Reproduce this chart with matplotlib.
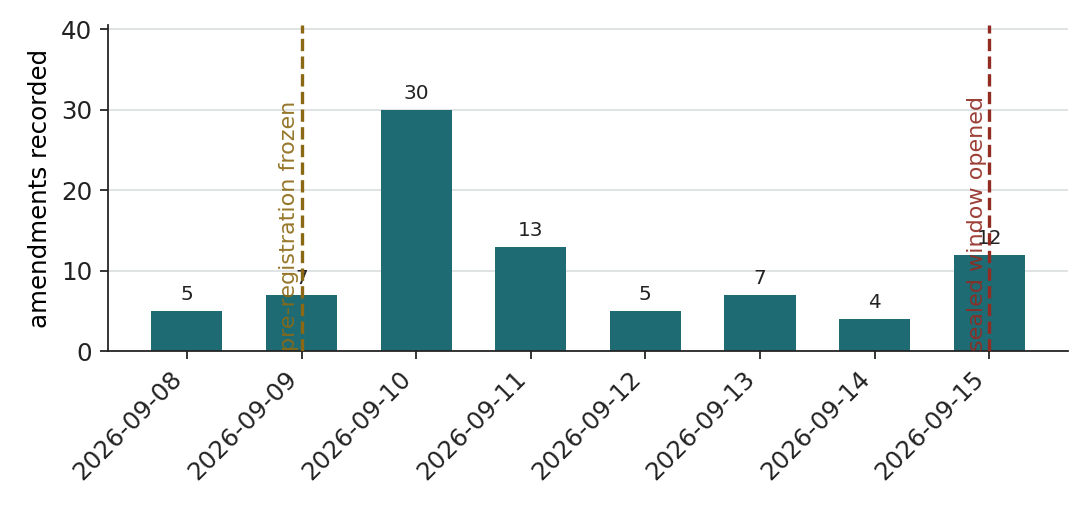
import numpy as np
import matplotlib
matplotlib.use("Agg")
from matplotlib import pyplot as plt

# Data
dates = ['2026-09-08', '2026-09-09', '2026-09-10', '2026-09-11',
         '2026-09-12', '2026-09-13', '2026-09-14', '2026-09-15']
amendments = [5, 7, 30, 13, 5, 7, 4, 12]
event_dates = ['2026-09-09', '2026-09-15']
event_labels = ['pre-registration frozen', 'sealed window opened']
event_colors = ['#8b6914', '#922b21']

fig, ax = plt.subplots(figsize=(6.8, 3.2), dpi=160)
x = np.arange(len(dates))
bars = ax.bar(x, amendments, width=0.62, color='#1f6b73', zorder=2)
ax.bar_label(bars, padding=3, fontsize=9, color='#222222')

for d, lab, c in zip(event_dates, event_labels, event_colors):
    xi = dates.index(d)
    ax.axvline(xi, color=c, linestyle='--', linewidth=1.5, zorder=4)
    ax.text(xi - 0.02, 0, lab, rotation=90, ha='right', va='bottom', color=c,
            fontsize=10, alpha=0.9, zorder=4)

ax.set_ylim(0, 40.5)
ax.set_yticks([0, 10, 20, 30, 40])
ax.set_xticks(x)
ax.set_xticklabels(dates, rotation=45, ha='right')
ax.set_ylabel('amendments recorded', fontsize=11)
ax.grid(axis='y', color='#dde0e0', linewidth=0.8, zorder=0)
ax.spines['top'].set_visible(False)
ax.spines['right'].set_visible(False)
ax.spines['left'].set_color('#222222')
ax.spines['bottom'].set_color('#222222')
ax.tick_params(colors='#222222', labelsize=11)

fig.subplots_adjust(left=0.099, right=0.982, top=0.951, bottom=0.314)
fig.savefig('out.png')
